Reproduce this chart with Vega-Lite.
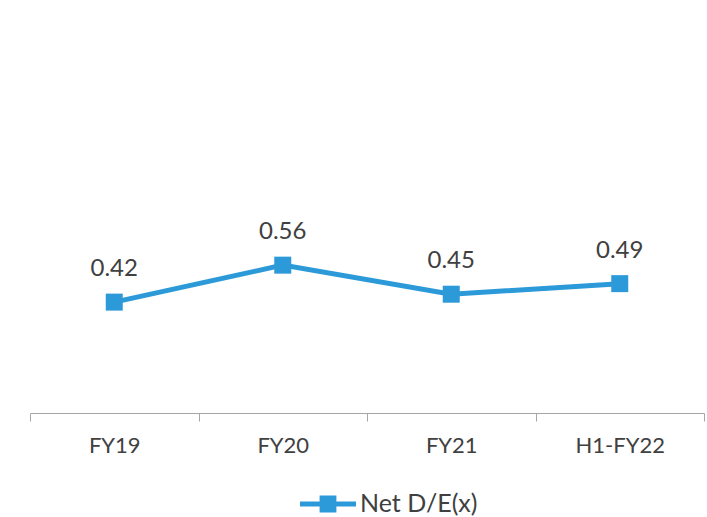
{
  "$schema": "https://vega.github.io/schema/vega-lite/v6.json",
  "width": 674,
  "height": 396,
  "autosize": {"type": "none"},
  "padding": {"left": 30, "top": 17, "right": 3, "bottom": 104},
  "background": "white",
  "config": {
    "view": {"stroke": null},
    "font": "Lato"
  },
  "data": {
    "values": [
      {"period": "FY19", "value": 0.42, "series": "Net D/E(x)"},
      {"period": "FY20", "value": 0.56, "series": "Net D/E(x)"},
      {"period": "FY21", "value": 0.45, "series": "Net D/E(x)"},
      {"period": "H1-FY22", "value": 0.49, "series": "Net D/E(x)"}
    ]
  },
  "encoding": {
    "x": {
      "field": "period",
      "type": "nominal",
      "sort": null,
      "scale": {"type": "band", "paddingInner": 0, "paddingOuter": 0},
      "axis": {
        "title": null,
        "labelAngle": 0,
        "tickBand": "extent",
        "domainColor": "#A6A6A6",
        "tickColor": "#A6A6A6",
        "tickSize": 8,
        "labelPadding": 14,
        "labelFontSize": 22,
        "labelColor": "#404040",
        "labelFont": "Lato"
      }
    },
    "y": {
      "field": "value",
      "type": "quantitative",
      "scale": {"domain": [0, 1.5]},
      "axis": null
    }
  },
  "layer": [
    {
      "mark": {"type": "line", "color": "#2C9AD8", "strokeWidth": 5}
    },
    {
      "mark": {"type": "point", "shape": "M-1,-1H1V1H-1Z", "filled": true, "size": 289, "opacity": 1},
      "encoding": {
        "color": {
          "field": "series",
          "type": "nominal",
          "scale": {"range": ["#2C9AD8"]},
          "legend": {
            "title": null,
            "orient": "none",
            "legendX": 270,
            "legendY": 459,
            "symbolType": "M-1,-0.09H1V0.09H-1Z M-0.3,-0.3H0.3V0.3H-0.3Z",
            "symbolSize": 3136,
            "symbolStrokeWidth": 0,
            "symbolOpacity": 1,
            "labelFontSize": 25,
            "labelColor": "#404040",
            "labelFont": "Lato",
            "labelOffset": 4
          }
        }
      }
    },
    {
      "mark": {"type": "text", "dy": -33, "fontSize": 24, "color": "#404040", "font": "Lato"},
      "encoding": {
        "text": {"field": "value", "type": "quantitative", "format": ".2f"}
      }
    }
  ]
}
